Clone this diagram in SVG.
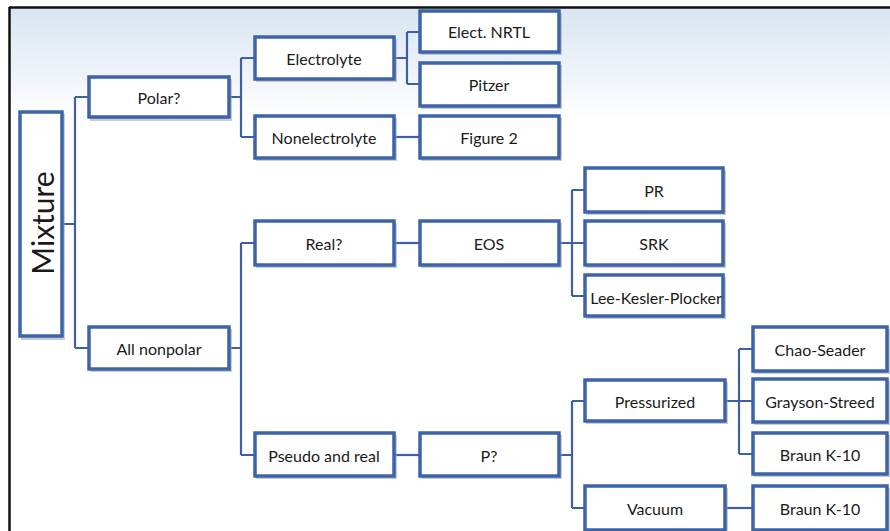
<svg xmlns="http://www.w3.org/2000/svg" width="890" height="531" viewBox="0 0 890 531">
<defs>
<linearGradient id="bg" x1="0" y1="0" x2="0" y2="1">
<stop offset="0" stop-color="#d9e5f2"/>
<stop offset="0.7" stop-color="#f3f6fa"/>
<stop offset="1" stop-color="#ffffff"/>
</linearGradient>
<style>
.box{fill:#ffffff;stroke:#3d63a8;stroke-width:3.5}
.sh{fill:#9aa3b0;opacity:0.55}
.t{font-family:Lato,"Open Sans","Liberation Sans",sans-serif;font-size:16px;fill:#1a1a1a;text-anchor:middle;dominant-baseline:central}
.c{fill:none;stroke:#3d5fa3;stroke-width:2.2}
</style>
</defs>
<rect x="0" y="0" width="890" height="531" fill="#ffffff"/>
<rect x="10" y="8" width="880" height="110" fill="url(#bg)"/>
<line x1="9" y1="7.5" x2="890" y2="7.5" stroke="#111" stroke-width="2.5"/>
<line x1="9.5" y1="7" x2="9.5" y2="531" stroke="#111" stroke-width="2.5"/>

<g id="connectors">
<path class="c" d="M63 224 H75 M75 97 V348 M75 97 H88 M75 348 H88"/>
<path class="c" d="M230 97 H241 M241 58 V137 M241 58 H254 M241 137 H254"/>
<path class="c" d="M395 58 H407 M407 32 V84 M407 32 H419 M407 84 H419"/>
<path class="c" d="M395 137 H419"/>
<path class="c" d="M230 348 H241 M241 243 V455 M241 243 H254 M241 455 H254"/>
<path class="c" d="M395 243 H419"/>
<path class="c" d="M560 243 H584 M572 190 V296 M572 190 H584 M572 296 H584"/>
<path class="c" d="M395 455 H419"/>
<path class="c" d="M560 455 H572 M572 401 V508 M572 401 H584 M572 508 H584"/>
<path class="c" d="M726 401 H752 M739 349 V454 M739 349 H752 M739 454 H752"/>
<path class="c" d="M726 508 H752"/>
</g>

<g id="mixture"><rect class="sh" x="21" y="114" width="44" height="226"/><rect class="box" x="20" y="112" width="42" height="224"/><text class="t" style="font-size:30px" transform="translate(42 223) rotate(-90)">Mixture</text></g>
<g id="polar"><rect class="sh" x="90" y="79" width="142" height="42"/><rect class="box" x="89" y="77" width="140" height="40"/><text class="t" x="159" y="97">Polar?</text></g>
<g id="allnonpolar"><rect class="sh" x="90" y="329" width="142" height="43"/><rect class="box" x="89" y="327" width="140" height="42"/><text class="t" x="159" y="348">All nonpolar</text></g>
<g id="electrolyte"><rect class="sh" x="256" y="39" width="141" height="43"/><rect class="box" x="255" y="37" width="139" height="42"/><text class="t" x="324" y="58">Electrolyte</text></g>
<g id="nonelectrolyte"><rect class="sh" x="256" y="118" width="141" height="43"/><rect class="box" x="255" y="116" width="139" height="42"/><text class="t" x="324" y="137">Nonelectrolyte</text></g>
<g id="electnrtl"><rect class="sh" x="421" y="13" width="141" height="42"/><rect class="box" x="420" y="11" width="139" height="41"/><text class="t" x="489" y="31">Elect. NRTL</text></g>
<g id="pitzer"><rect class="sh" x="421" y="65" width="141" height="44"/><rect class="box" x="420" y="63" width="139" height="43"/><text class="t" x="489" y="84">Pitzer</text></g>
<g id="figure2"><rect class="sh" x="421" y="118" width="141" height="43"/><rect class="box" x="420" y="116" width="139" height="42"/><text class="t" x="489" y="137">Figure 2</text></g>
<g id="real"><rect class="sh" x="256" y="223" width="141" height="45"/><rect class="box" x="255" y="221" width="139" height="44"/><text class="t" x="324" y="243">Real?</text></g>
<g id="eos"><rect class="sh" x="421" y="223" width="141" height="45"/><rect class="box" x="420" y="221" width="139" height="44"/><text class="t" x="489" y="243">EOS</text></g>
<g id="pr"><rect class="sh" x="586" y="170" width="140" height="45"/><rect class="box" x="585" y="168" width="138" height="44"/><text class="t" x="654" y="190">PR</text></g>
<g id="srk"><rect class="sh" x="586" y="223" width="140" height="45"/><rect class="box" x="585" y="221" width="138" height="44"/><text class="t" x="654" y="243">SRK</text></g>
<g id="lkp"><rect class="sh" x="586" y="277" width="140" height="42"/><rect class="box" x="585" y="275" width="138" height="41"/><text class="t" x="656" y="297" style="font-size:16px">Lee-Kesler-Plocker</text></g>
<g id="pseudo"><rect class="sh" x="256" y="435" width="141" height="44"/><rect class="box" x="255" y="433" width="139" height="43"/><text class="t" x="324" y="455">Pseudo and real</text></g>
<g id="p"><rect class="sh" x="421" y="435" width="141" height="44"/><rect class="box" x="420" y="433" width="139" height="43"/><text class="t" x="489" y="455">P?</text></g>
<g id="pressurized"><rect class="sh" x="586" y="382" width="142" height="42"/><rect class="box" x="585" y="380" width="140" height="41"/><text class="t" x="655" y="401">Pressurized</text></g>
<g id="vacuum"><rect class="sh" x="586" y="488" width="142" height="45"/><rect class="box" x="585" y="486" width="140" height="44"/><text class="t" x="655" y="508">Vacuum</text></g>
<g id="chaoseader"><rect class="sh" x="754" y="329" width="136" height="45"/><rect class="box" x="753" y="327" width="134" height="44"/><text class="t" x="820" y="349">Chao-Seader</text></g>
<g id="graysonstreed"><rect class="sh" x="754" y="381" width="136" height="44"/><rect class="box" x="753" y="379" width="134" height="43"/><text class="t" x="820" y="401">Grayson-Streed</text></g>
<g id="braunk10a"><rect class="sh" x="754" y="435" width="136" height="42"/><rect class="box" x="753" y="433" width="134" height="41"/><text class="t" x="820" y="454">Braun K-10</text></g>
<g id="braunk10b"><rect class="sh" x="754" y="488" width="136" height="45"/><rect class="box" x="753" y="486" width="134" height="44"/><text class="t" x="820" y="508">Braun K-10</text></g>
</svg>
